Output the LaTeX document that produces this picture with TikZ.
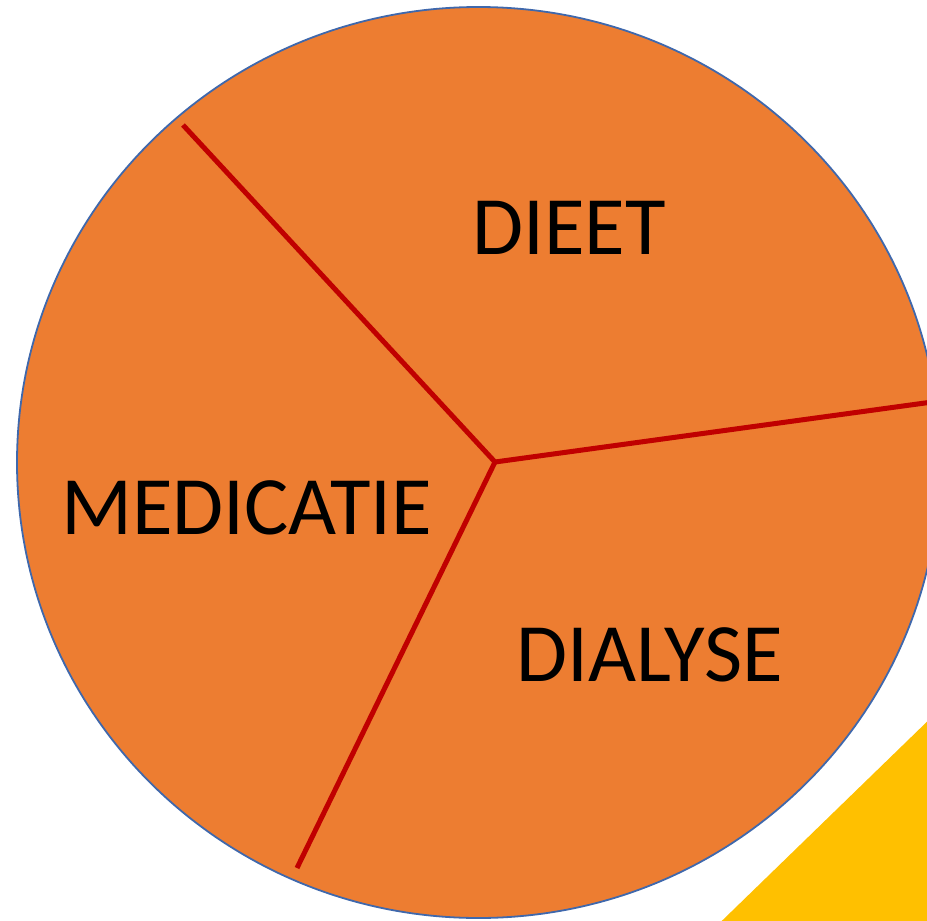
\documentclass[tikz,border=0pt]{standalone}
\usepackage{fontspec}
\setmainfont{Carlito}
\definecolor{pieorange}{HTML}{ED7D31}
\definecolor{pieblue}{HTML}{3F68AC}
\definecolor{piered}{HTML}{C00000}
\definecolor{pieyellow}{HTML}{FFC000}
\tikzset{
  divider/.style={draw=piered, line width=5pt, line cap=butt},
  label/.style={inner sep=0pt, anchor=base, font=\fontsize{83}{83}\selectfont, text=black}
}
\begin{document}
\begin{tikzpicture}[x=1pt, y=-1pt]
\useasboundingbox (0,0) rectangle (927,921);
\begin{scope}
\clip (0,0) rectangle (927,921);
\fill[pieyellow] (721.7,921) -- (927,721.7) -- (927,921) -- cycle;
\draw[fill=pieorange, draw=pieblue, line width=1.8pt] (478.5,462.5) ellipse [x radius=461.5, y radius=455.5];
\coordinate (c) at (495,462);
\coordinate (a) at (183,125);
\coordinate (b) at (930,402.3);
\coordinate (d) at (297,868);
\draw[divider] (a) -- (c);
\draw[divider] (c) -- (b);
\draw[divider] (c) -- (d);
\end{scope}
\node[label] (dieet) at (569,254) {DIEET};
\node[label] (medicatie) at (246.7,534) {MEDICATIE};
\node[label] (dialyse) at (649.5,681.7) {DIALYSE};
\end{tikzpicture}
\end{document}
